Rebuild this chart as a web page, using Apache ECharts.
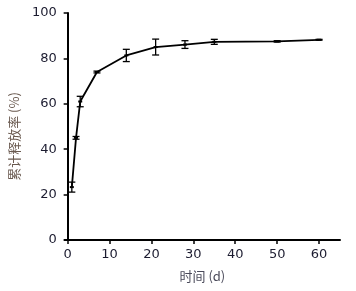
<!DOCTYPE html>
<html>
<head>
<meta charset="utf-8">
<script src="https://cdn.jsdelivr.net/npm/echarts@6/dist/echarts.min.js"></script>
<style>
  html, body { margin: 0; padding: 0; background: #fff; }
  #chart { width: 356px; height: 291px; }
</style>
</head>
<body>
<div id="chart"></div>
<script>
const days = [1, 2, 3, 7, 14, 21, 28, 35, 50, 60];
const release = [23.3, 45, 61, 74, 81.3, 85, 86.1, 87.3, 87.5, 88.2];
const errors = [2.2, 0.6, 2.3, 0.4, 2.7, 3.5, 1.7, 1.1, 0.3, 0.2];
const xTicks = [0, 10, 20, 30, 40, 50, 60];

const chart = echarts.init(document.getElementById('chart'));

const textColor = '#1c1c30';

const option = {
  animation: false,
  backgroundColor: '#fff',
  grid: { left: 55, right: 16, top: 13, bottom: 51 },
  xAxis: {
    type: 'value',
    min: -0.7,
    max: 65,
    name: '时间 (d)',
    nameLocation: 'middle',
    nameGap: 30,
    nameTextStyle: { color: '#4a4a5a', fontSize: 13, fontFamily: 'Noto Sans CJK SC' },
    axisLine: { show: true, onZero: false, lineStyle: { color: '#000', width: 2 } },
    axisTick: { show: true, customValues: xTicks, length: 4, lineStyle: { color: '#000', width: 1.5 } },
    axisLabel: { customValues: xTicks, color: textColor, fontSize: 13, fontFamily: 'DejaVu Sans', margin: 8 },
    splitLine: { show: false }
  },
  yAxis: {
    type: 'value',
    min: 0,
    max: 100,
    interval: 20,
    name: '累计释放率 (%)',
    nameLocation: 'middle',
    nameGap: 43,
    nameTextStyle: { color: '#6a5a50', fontSize: 13, fontFamily: 'Noto Sans CJK SC', padding: [0, 20, 0, 0] },
    axisLine: { show: true, lineStyle: { color: '#000', width: 2 } },
    axisTick: { show: true, length: 4, lineStyle: { color: '#000', width: 1.5 } },
    axisLabel: { color: textColor, fontSize: 13, fontFamily: 'DejaVu Sans', margin: 8 },
    splitLine: { show: false }
  },
  series: [
    {
      type: 'line',
      data: days.map((d, i) => [d, release[i]]),
      symbol: 'rect',
      symbolSize: [4, 2],
      itemStyle: { color: '#000' },
      lineStyle: { color: '#000', width: 1.8 },
      z: 3
    },
    {
      type: 'custom',
      data: days.map((d, i) => [d, release[i] - errors[i], release[i] + errors[i]]),
      renderItem: function (params, api) {
        const x = api.value(0);
        const lo = api.coord([x, api.value(1)]);
        const hi = api.coord([x, api.value(2)]);
        const cap = 3.5;
        const style = { stroke: '#000', lineWidth: 1.3 };
        return {
          type: 'group',
          children: [
            { type: 'line', shape: { x1: lo[0], y1: lo[1], x2: hi[0], y2: hi[1] }, style: style },
            { type: 'line', shape: { x1: lo[0] - cap, y1: lo[1], x2: lo[0] + cap, y2: lo[1] }, style: style },
            { type: 'line', shape: { x1: hi[0] - cap, y1: hi[1], x2: hi[0] + cap, y2: hi[1] }, style: style }
          ]
        };
      },
      z: 4
    }
  ]
};

chart.setOption(option);
</script>
</body>
</html>
